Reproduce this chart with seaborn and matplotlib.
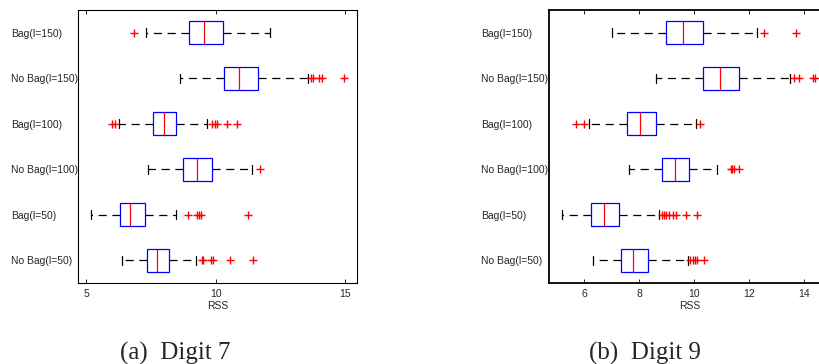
import numpy as np
import pandas as pd
import matplotlib
matplotlib.use("Agg")
import matplotlib.pyplot as plt
import seaborn as sns

# Group labels, top to bottom
methods = ["Bag(l=150)", "No Bag(l=150)", "Bag(l=100)", "No Bag(l=100)",
           "Bag(l=50)", "No Bag(l=50)"]

# Digit 7: five-number summaries and outliers of RSS per method
d7_whislo = [7.33, 8.64, 6.28, 7.38, 5.18, 6.40]
d7_q1 = [8.96, 10.32, 7.60, 8.76, 6.32, 7.37]
d7_med = [9.56, 10.92, 8.00, 9.27, 6.71, 7.75]
d7_q3 = [10.28, 11.63, 8.49, 9.88, 7.29, 8.20]
d7_whishi = [12.10, 13.55, 9.68, 11.42, 8.46, 9.23]
d7_out = [
    [6.85],
    [13.67, 13.78, 14.00, 14.11, 14.97],
    [6.02, 6.12, 9.88, 9.98, 10.07, 10.43, 10.84],
    [11.72],
    [8.94, 9.27, 9.37, 9.42, 11.25],
    [9.47, 9.53, 9.81, 9.91, 10.56, 11.46],
]

# Digit 9: five-number summaries and outliers of RSS per method
d9_whislo = [7.00, 8.60, 6.18, 7.62, 5.19, 6.31]
d9_q1 = [8.97, 10.32, 7.57, 8.82, 6.23, 7.34]
d9_med = [9.59, 10.96, 8.04, 9.29, 6.71, 7.78]
d9_q3 = [10.32, 11.64, 8.62, 9.82, 7.26, 8.33]
d9_whishi = [12.29, 13.51, 10.08, 10.85, 8.74, 9.77]
d9_out = [
    [12.56, 13.73],
    [13.66, 13.85, 14.36, 14.42],
    [5.70, 5.97, 10.22],
    [11.34, 11.40, 11.46, 11.64],
    [8.82, 8.90, 8.98, 9.10, 9.25, 9.35, 9.70, 10.10],
    [9.85, 9.95, 10.04, 10.10, 10.38],
]


def summary_frame(whislo, q1, med, q3, whishi, outliers, weight=20):
    """Long-form RSS samples whose quartiles, whiskers and outliers
    reproduce the given summaries (quartile values carry extra weight)."""
    rows = []
    for i, name in enumerate(methods):
        vals = (list(outliers[i]) + [whislo[i], whishi[i]]
                + [q1[i]] * weight + [med[i]] * weight + [q3[i]] * weight)
        rows += [(name, v) for v in vals]
    return pd.DataFrame(rows, columns=["method", "RSS"])


df7 = summary_frame(d7_whislo, d7_q1, d7_med, d7_q3, d7_whishi, d7_out)
df9 = summary_frame(d9_whislo, d9_q1, d9_med, d9_q3, d9_whishi, d9_out)

sns.set_style("white")
plt.rcParams["font.family"] = ["Liberation Sans", "DejaVu Sans"]

W, H = 820, 364
fig = plt.figure(figsize=(W / 100, H / 100), dpi=100)

ax_bottom = 1 - 283 / H
ax_height = 273 / H
ax7 = fig.add_axes([78 / W, ax_bottom, 279 / W, ax_height])
ax9 = fig.add_axes([549 / W, ax_bottom, 282 / W, ax_height])

box_kw = dict(
    x="RSS", y="method", order=methods, orient="y", width=0.5,
    color="white", linecolor="blue", linewidth=0.9,
    boxprops=dict(facecolor="white", edgecolor="blue", linewidth=0.9),
    medianprops=dict(color="red", linewidth=0.9),
    whiskerprops=dict(color="black", linewidth=0.9,
                      linestyle=(0, (6.5, 4.5))),
    capprops=dict(color="black", linewidth=0.9),
    flierprops=dict(marker="+", markeredgecolor="red",
                    markerfacecolor="red", markersize=6,
                    markeredgewidth=1.0),
    capwidths=0.2,
)

# (axes, data, x-limits, x-ticks, spine width, left edge of y labels in px)
panels = [
    (ax7, df7, (4.69, 15.46), [5, 10, 15], 0.8, 11),
    (ax9, df9, (4.71, 15.0), [6, 8, 10, 12, 14], 1.3, 481),
]
for ax, df, xlim, xticks, spine_w, label_left in panels:
    sns.boxplot(data=df, ax=ax, **box_kw)
    ax.set_xlim(*xlim)
    ax.set_ylim(5.5, -0.5)
    ax.set_xticks(xticks)
    ax.set_xticklabels([str(t) for t in xticks])
    ax.set_xlabel("RSS", fontsize=7.5, labelpad=2)
    ax.set_ylabel("")
    ax.tick_params(axis="x", direction="in", length=3, width=0.6,
                   top=True, bottom=True, labelsize=7.5, pad=4,
                   color="black")
    # y labels are left-aligned in a column to the left of the axes
    spine_px = ax.get_position().x0 * W
    ax.tick_params(axis="y", length=0, labelsize=7.5,
                   pad=(spine_px - label_left) * 72 / 100)
    for lab in ax.get_yticklabels():
        lab.set_horizontalalignment("left")
    for s in ax.spines.values():
        s.set_visible(True)
        s.set_color("black")
        s.set_linewidth(spine_w)

fig.text(175 / W, 4 / H, "(a)  Digit 7", ha="center", va="baseline",
         fontsize=18, family=["Liberation Serif", "DejaVu Serif"])
fig.text(645 / W, 4 / H, "(b)  Digit 9", ha="center", va="baseline",
         fontsize=18, family=["Liberation Serif", "DejaVu Serif"])

fig.savefig("out.png", dpi=100)
